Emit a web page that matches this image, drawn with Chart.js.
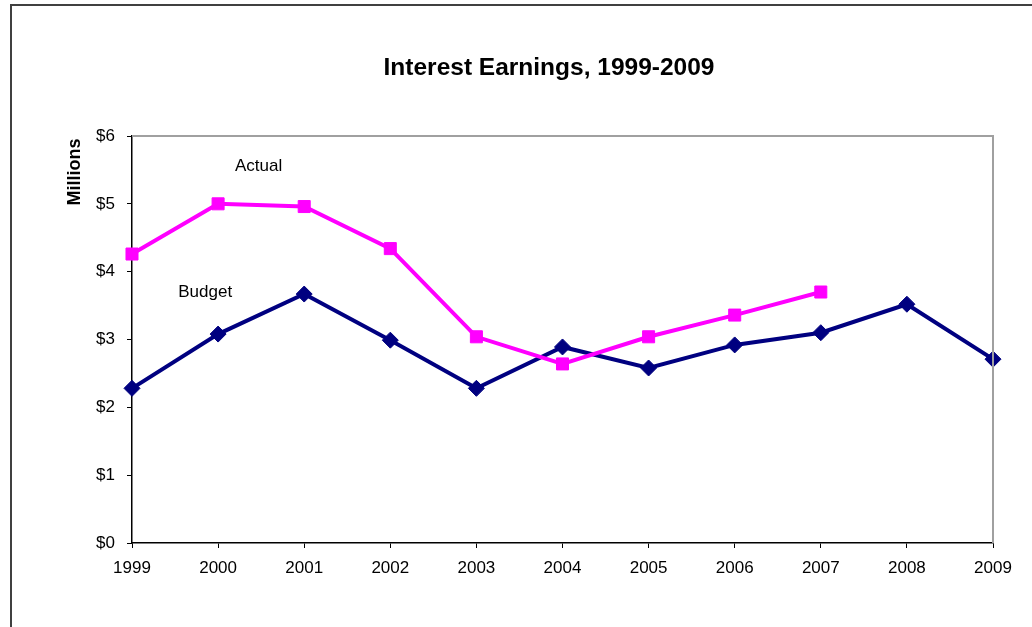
<!DOCTYPE html>
<html>
<head>
<meta charset="utf-8">
<script src="https://cdn.jsdelivr.net/npm/chart.js@4/dist/chart.umd.min.js"></script>
<style>
  html, body { margin: 0; padding: 0; background: #fff; }
  #wrap { width: 1032px; height: 627px; position: relative; }
</style>
</head>
<body>
<div id="wrap"><canvas id="lineChart" width="1032" height="627"></canvas></div>
<script>
var years = ['1999', '2000', '2001', '2002', '2003', '2004', '2005', '2006', '2007', '2008', '2009'];
var actual = [4.26, 5.00, 4.96, 4.34, 3.04, 2.64, 3.04, 3.36, 3.70, null, null];
var budget = [2.28, 3.08, 3.67, 2.99, 2.28, 2.89, 2.58, 2.92, 3.10, 3.52, 2.71];
var yTicks = [0, 1, 2, 3, 4, 5, 6];

var chartTitle = 'Interest Earnings, 1999-2009';
var yTitle = 'Millions';
var fontName = '"Liberation Sans", Arial, sans-serif';

// frames and free text labels, drawn on the canvas
var extras = {
    id: 'extras',
    afterDraw: function (chart) {
        var ctx = chart.ctx;
        var a = chart.chartArea;
        ctx.save();
        // outer chart border (top and left only visible)
        ctx.strokeStyle = '#404040';
        ctx.lineWidth = 2;
        ctx.beginPath();
        ctx.moveTo(11, 627);
        ctx.lineTo(11, 5);
        ctx.lineTo(1032, 5);
        ctx.stroke();
        // plot area top and right border
        ctx.strokeStyle = '#a0a0a0';
        ctx.lineWidth = 2;
        ctx.beginPath();
        ctx.moveTo(a.left, a.top);
        ctx.lineTo(a.right, a.top);
        ctx.lineTo(a.right, a.bottom);
        ctx.stroke();

        ctx.fillStyle = '#000';
        ctx.textAlign = 'center';
        ctx.textBaseline = 'middle';
        ctx.font = 'bold 24.5px ' + fontName;
        ctx.fillText(chartTitle, 549, 68);

        ctx.font = '17px ' + fontName;
        var xs = chart.scales.x, ys = chart.scales.y;
        ctx.fillText('Actual', xs.getPixelForValue(1.47), ys.getPixelForValue(5.55));
        ctx.fillText('Budget', xs.getPixelForValue(0.85), ys.getPixelForValue(3.7));

        ctx.translate(75, 172);
        ctx.rotate(-Math.PI / 2);
        ctx.font = 'bold 18px ' + fontName;
        ctx.fillText(yTitle, 0, 0);
        ctx.restore();
    }
};

var ctx = document.getElementById('lineChart').getContext('2d');
var lineChart = new Chart(ctx, {
    type: 'line',
    data: {
        labels: years,
        datasets: [
            {
                label: 'Actual',
                data: actual,
                borderColor: '#ff00ff',
                backgroundColor: '#ff00ff',
                borderWidth: 4,
                pointStyle: 'rect',
                pointRadius: 8.5,
                pointBorderWidth: 1,
                pointHoverRadius: 8.5,
                tension: 0,
                spanGaps: false
            },
            {
                label: 'Budget',
                data: budget,
                borderColor: '#000080',
                backgroundColor: '#000080',
                borderWidth: 4,
                pointStyle: 'rectRot',
                pointRadius: 8,
                pointBorderWidth: 1,
                pointHoverRadius: 8,
                tension: 0
            }
        ]
    },
    options: {
        responsive: false,
        animation: false,
        layout: { padding: { top: 136, right: 39, bottom: 30, left: 62 } },
        plugins: {
            legend: { display: false },
            title: { display: false },
            tooltip: { enabled: false }
        },
        scales: {
            x: {
                offset: false,
                grid: { display: true, drawOnChartArea: false, drawTicks: true, tickLength: 5, color: '#000', lineWidth: 1 },
                border: { display: true, color: '#000', width: 1.5 },
                ticks: { color: '#000', font: { family: fontName, size: 17 }, padding: 10, maxRotation: 0, autoSkip: false },
                afterFit: function (scale) { scale.height = 54; }
            },
            y: {
                min: 0,
                max: 6,
                afterBuildTicks: function (scale) {
                    scale.ticks = yTicks.map(function (v) { return { value: v }; });
                },
                grid: { display: true, drawOnChartArea: false, drawTicks: true, tickLength: 5, color: '#000', lineWidth: 1 },
                border: { display: true, color: '#000', width: 1.5 },
                ticks: {
                    color: '#000',
                    font: { family: fontName, size: 17 },
                    padding: 12,
                    callback: function (v) { return '$' + v; }
                },
                afterFit: function (scale) { scale.width = 70; }
            }
        }
    },
    plugins: [extras]
});
</script>
</body>
</html>
